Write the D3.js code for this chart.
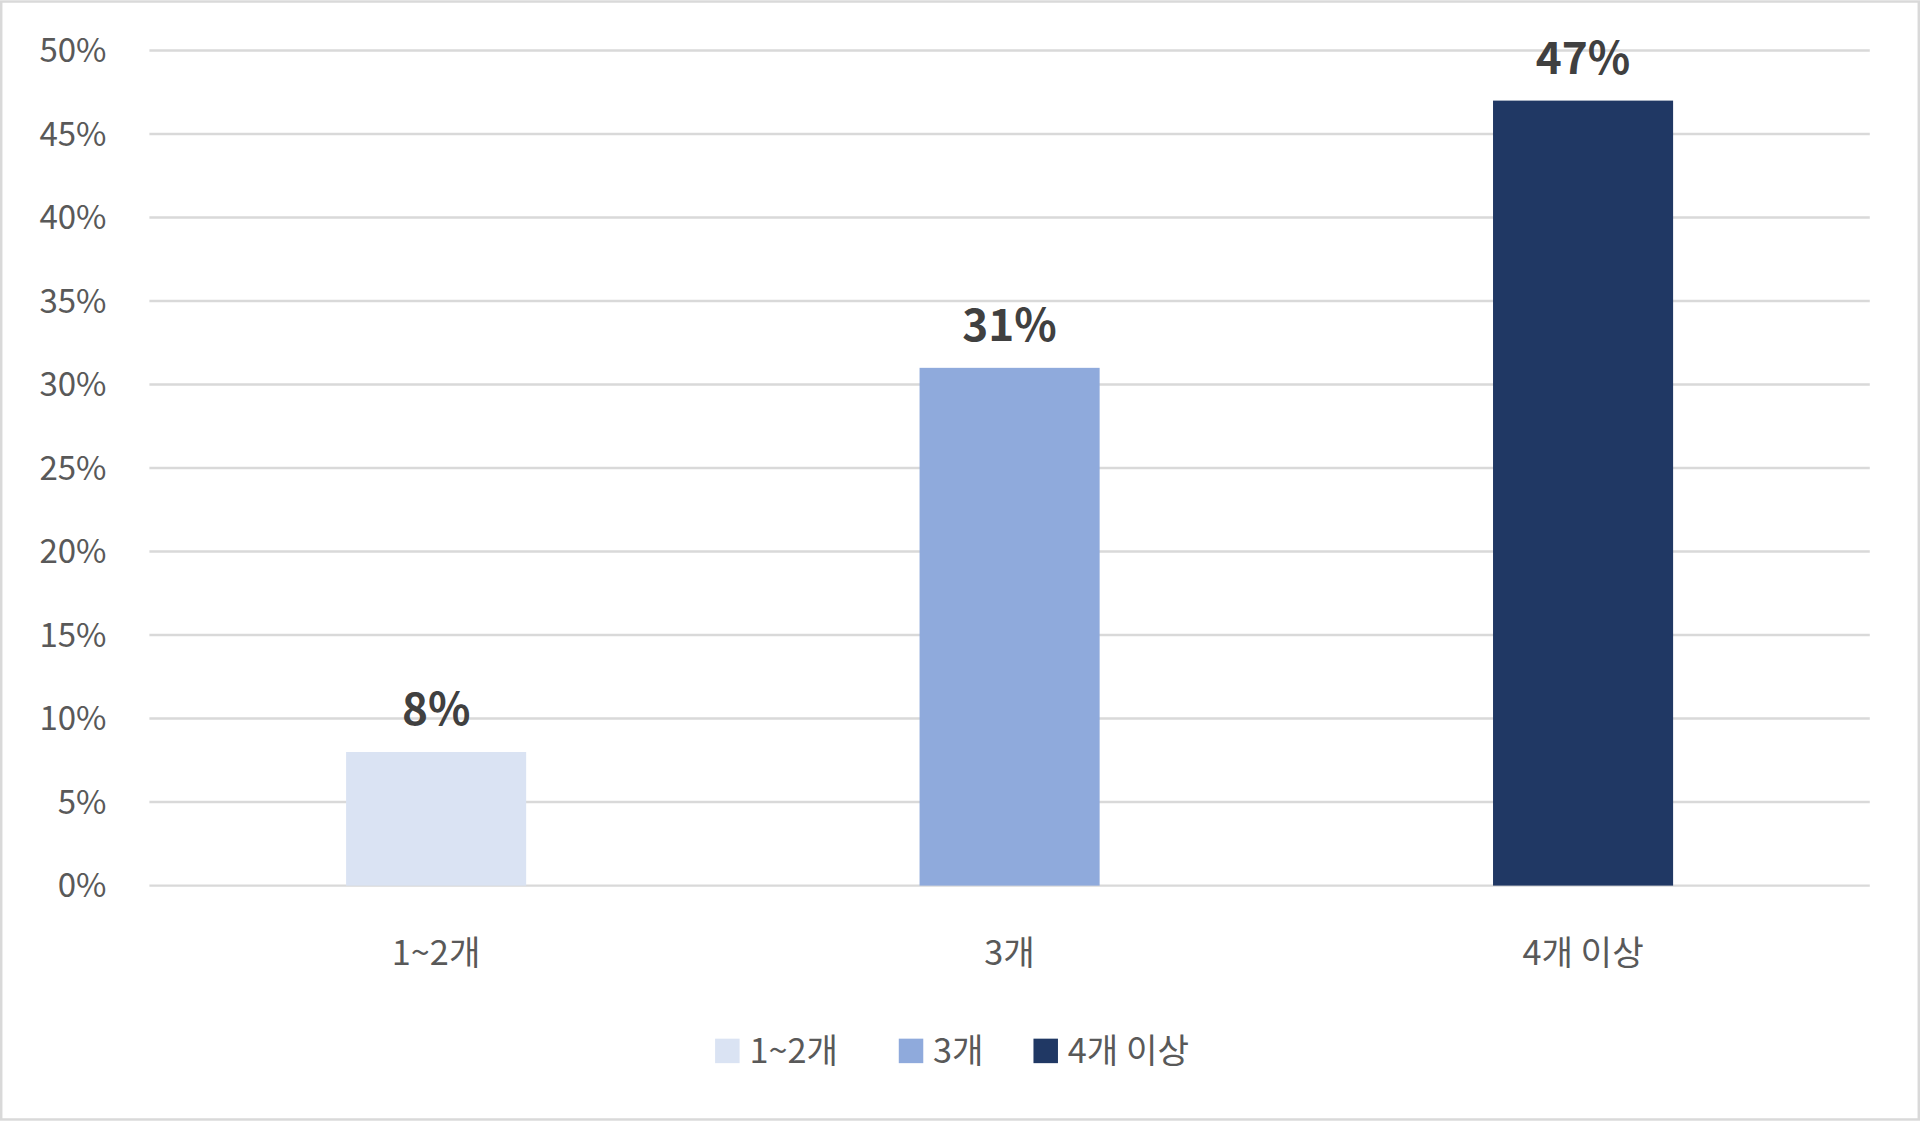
<!DOCTYPE html>
<html><head><meta charset="utf-8">
<script src="https://cdn.jsdelivr.net/npm/d3@7"></script>
<style>body{margin:0;background:#fff}svg{display:block}</style>
</head><body><svg id="c"></svg>
<script>
const categories = ['1~2개', '3개', '4개 이상'];
const values = [8, 31, 47];
const colors = ['#DAE3F3', '#8FAADC', '#203864'];
const yTicks = [0, 5, 10, 15, 20, 25, 30, 35, 40, 45, 50];

const W = 1568, H = 915;
const svg = d3.select('#c').attr('width', 1920).attr('height', 1121)
    .attr('viewBox', '0 0 ' + W + ' ' + H)
    .style('font-family', '"Noto Sans CJK KR", "Noto Sans", sans-serif');

svg.append('rect').attr('x', 1).attr('y', 1).attr('width', W - 2).attr('height', H - 2)
    .attr('fill', '#fff').attr('stroke', '#d9d9d9').attr('stroke-width', 2);

const plotLeft = 122, plotRight = 1527, plotTop = 41, plotBottom = 723;
const x = d3.scaleBand().domain(categories).range([plotLeft, plotRight]).paddingInner(0.686).paddingOuter(0.343);
const y = d3.scaleLinear().domain([0, 50]).range([plotBottom, plotTop]);

// grid
svg.append('g').selectAll('line').data(yTicks).join('line')
    .attr('x1', plotLeft).attr('x2', plotRight)
    .attr('y1', d => y(d)).attr('y2', d => y(d))
    .attr('stroke', '#d9d9d9').attr('stroke-width', 2);

// y labels
svg.append('g').selectAll('text').data(yTicks).join('text')
    .attr('x', 87).attr('y', d => y(d)).attr('dy', '0.35em')
    .attr('text-anchor', 'end').attr('font-size', 27).attr('fill', '#595959')
    .text(d => d + '%');

// bars
svg.append('g').selectAll('rect').data(values).join('rect')
    .attr('x', (d, i) => x(categories[i])).attr('width', x.bandwidth())
    .attr('y', d => y(d)).attr('height', d => plotBottom - y(d))
    .attr('fill', (d, i) => colors[i]);

// value labels
svg.append('g').selectAll('text').data(values).join('text')
    .attr('x', (d, i) => x(categories[i]) + x.bandwidth() / 2)
    .attr('y', d => y(d) - 22)
    .attr('text-anchor', 'middle').attr('font-size', 36).attr('font-weight', 'bold')
    .attr('fill', '#404040').text(d => d + '%');

// x labels
svg.append('g').selectAll('text').data(categories).join('text')
    .attr('x', d => x(d) + x.bandwidth() / 2).attr('y', 778).attr('dy', '0.35em')
    .attr('text-anchor', 'middle').attr('font-size', 28).attr('fill', '#595959')
    .text(d => d);

// legend
const legendX = [584, 734, 844];
const lg = svg.append('g').selectAll('g').data(categories).join('g')
    .attr('transform', (d, i) => 'translate(' + legendX[i] + ',858)');
lg.append('rect').attr('x', 0).attr('y', -10).attr('width', 20).attr('height', 20)
    .attr('fill', (d, i) => colors[i]);
lg.append('text').attr('x', 28).attr('dy', '0.35em').attr('font-size', 28)
    .attr('fill', '#595959').text(d => d);
</script></body></html>
